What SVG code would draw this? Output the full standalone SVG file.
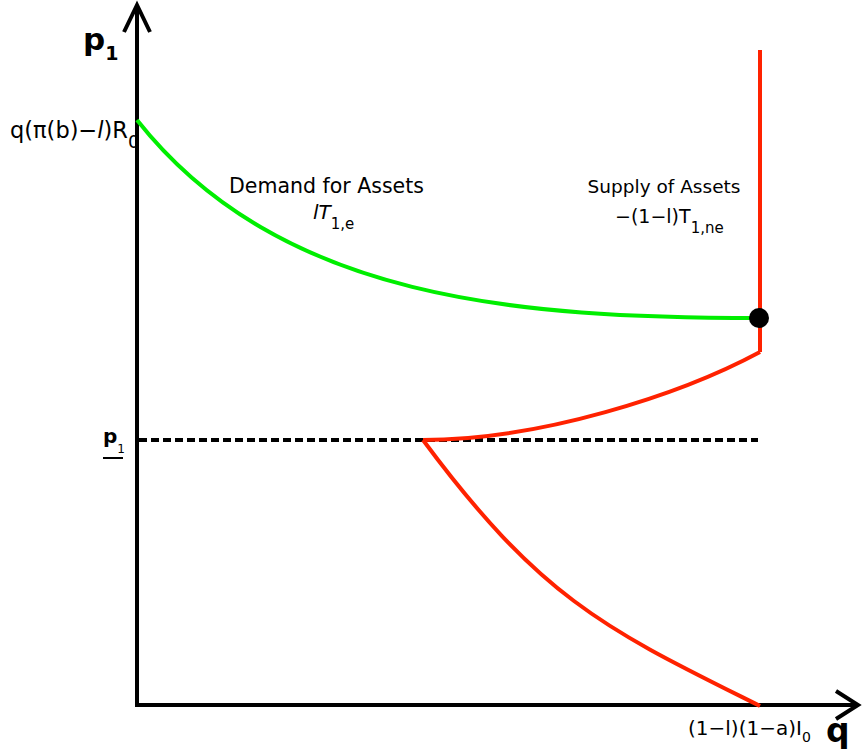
<svg xmlns="http://www.w3.org/2000/svg" width="862" height="755" viewBox="0 0 862 755">
<style>
text{font-family:"DejaVu Sans","Liberation Sans",sans-serif;fill:#000}
.axis{stroke:#000;stroke-width:4;fill:none}
.red{stroke:#ff2200;stroke-width:4;fill:none}
.green{stroke:#00ee00;stroke-width:4;fill:none}
</style>
<rect width="862" height="755" fill="#fff"/>
<g id="axes">
<line class="axis" x1="137" y1="707" x2="137" y2="6"/>
<polyline class="axis" points="124,32 137,5 150,32" stroke-linejoin="miter"/>
<line class="axis" x1="135" y1="705" x2="857" y2="705"/>
<polyline class="axis" points="836,691 858,705 836,719" stroke-linejoin="miter"/>
</g>
<g id="floor-line">
<line x1="139" y1="440" x2="758" y2="440" stroke="#000" stroke-width="4" stroke-dasharray="8 4"/>
</g>
<g id="connectors">
<path id="demand-curve" class="green" d="M137,120 C280,301 520,318 760,318"/>
<path id="supply-vertical" class="red" d="M760,50 L760,352"/>
<path id="supply-upper" class="red" d="M760,352 C680,395 540,440 423,440"/>
<path id="supply-lower" class="red" d="M423,440 C543,602 610,631 760,706"/>
</g>
<g id="equilibrium">
<circle cx="759" cy="318" r="10" fill="#000"/>
</g>
<g id="label-p1">
<text x="83" y="50" font-size="31" font-weight="bold">p<tspan font-size="19" dy="10">1</tspan></text>
</g>
<g id="label-q">
<text x="826" y="742" font-size="33" font-weight="bold">q</text>
</g>
<g id="label-intercept">
<text x="10" y="138" font-size="22.5">q(π(b)−<tspan font-style="italic">l</tspan>)R<tspan font-size="18" dy="10">0</tspan></text>
</g>
<g id="label-pbar">
<text x="103" y="443" font-size="20" font-weight="bold">p<tspan font-size="12" font-weight="normal" dy="10">1</tspan></text>
<line x1="103" y1="458" x2="123" y2="458" stroke="#000" stroke-width="2"/>
</g>
<g id="label-qmax">
<text x="688" y="735" font-size="20">(1−l)(1−a)I<tspan font-size="14" dy="7">0</tspan></text>
</g>
<g id="label-demand">
<text x="326.5" y="193" font-size="20.5" text-anchor="middle">Demand for Assets</text>
<text x="313" y="219" font-size="20"><tspan font-style="italic">lT</tspan><tspan font-size="15" dy="10">1,e</tspan></text>
</g>
<g id="label-supply">
<text x="664" y="193" font-size="18.5" text-anchor="middle">Supply of Assets</text>
<text x="615" y="223" font-size="19">−(1−l)T<tspan font-size="15" dy="10">1,ne</tspan></text>
</g>
</svg>
